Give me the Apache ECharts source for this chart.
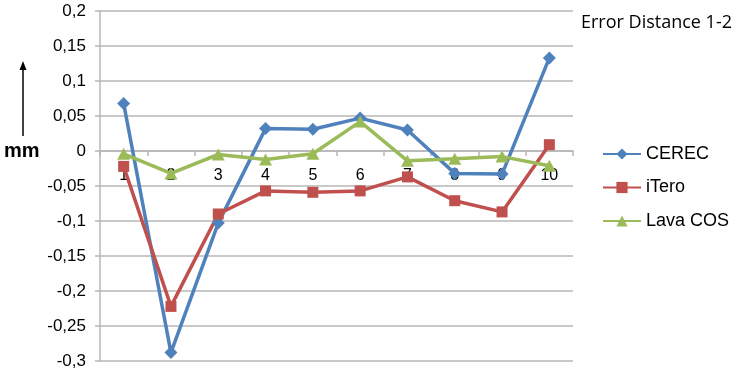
<!DOCTYPE html>
<html>
<head>
<meta charset="utf-8">
<script src="https://cdn.jsdelivr.net/npm/echarts@6/dist/echarts.min.js"></script>
<style>html,body{margin:0;padding:0;background:#fff}#c{width:738px;height:375px}</style>
</head>
<body>
<div id="c"></div>
<script>
const categories = ['1','2','3','4','5','6','7','8','9','10'];
const cerec = [0.068, -0.288, -0.103, 0.032, 0.031, 0.047, 0.030, -0.032, -0.033, 0.133];
const itero = [-0.022, -0.222, -0.090, -0.057, -0.059, -0.057, -0.037, -0.071, -0.087, 0.009];
const lava  = [-0.004, -0.032, -0.005, -0.012, -0.004, 0.042, -0.014, -0.011, -0.008, -0.021];
const seriesNames = ['CEREC', 'iTero', 'Lava COS'];
const titleText = 'Error Distance 1-2';
const unitText = 'mm';

const chart = echarts.init(document.getElementById('c'));
const colors = ['#4F81BD', '#C0504D', '#9BBB59'];
const symbols = ['diamond', 'rect', 'triangle'];
const sizes = [[13, 13], [11, 11], [13, 12]];
const data = [cerec, itero, lava];
const grey = '#B7B7B7';

chart.setOption({
  animation: false,
  color: colors,
  title: {
    text: titleText, left: 581, top: 14, padding: 0,
    textStyle: { fontFamily: 'Open Sans', fontSize: 18, fontWeight: 'normal', color: '#000' }
  },
  legend: {
    orient: 'vertical', left: 602, top: 144, padding: 0,
    itemWidth: 38, itemHeight: 14, itemGap: 13.5,
    textStyle: { fontFamily: 'Liberation Sans', fontSize: 18, color: '#000', lineHeight: 20 },
    data: seriesNames
  },
  grid: { left: 100, right: 165, top: 11, bottom: 14, containLabel: false, outerBoundsMode: 'none' },
  xAxis: {
    type: 'category', data: categories, boundaryGap: true,
    position: 'bottom', offset: -210,
    axisLine: { onZero: false, lineStyle: { color: grey, width: 1.5 } },
    axisTick: { show: true, length: 5, lineStyle: { color: grey, width: 1.5 } },
    axisLabel: { margin: 17, fontFamily: 'Liberation Sans', fontSize: 16, color: '#000' },
    splitLine: { show: false }
  },
  yAxis: {
    type: 'value', min: -0.3, max: 0.2, interval: 0.05,
    axisLine: { show: true, lineStyle: { color: grey, width: 1.5 } },
    axisTick: { show: true, length: 5, lineStyle: { color: grey, width: 1.5 } },
    axisLabel: {
      margin: 14, fontFamily: 'Liberation Sans', fontSize: 17, color: '#000',
      formatter: v => String(+v.toFixed(2)).replace('.', ',')
    },
    splitLine: { show: true, lineStyle: { color: grey, width: 1.5 } }
  },
  graphic: [
    { type: 'text', left: 4, top: 141, style: { text: unitText, font: 'bold 20px "Liberation Sans"', fill: '#000' } },
    { type: 'line', shape: { x1: 23, y1: 136, x2: 23, y2: 68 }, style: { stroke: '#000', lineWidth: 1.5 } },
    { type: 'polygon', shape: { points: [[23, 61], [19.5, 70], [26.5, 70]] }, style: { fill: '#000' } }
  ],
  series: seriesNames.map((n, i) => ({
    name: n, type: 'line', data: data[i],
    symbol: symbols[i], symbolSize: sizes[i],
    lineStyle: { width: 3.5, color: colors[i] },
    itemStyle: { color: colors[i] }
  }))
});
</script>
</body>
</html>
